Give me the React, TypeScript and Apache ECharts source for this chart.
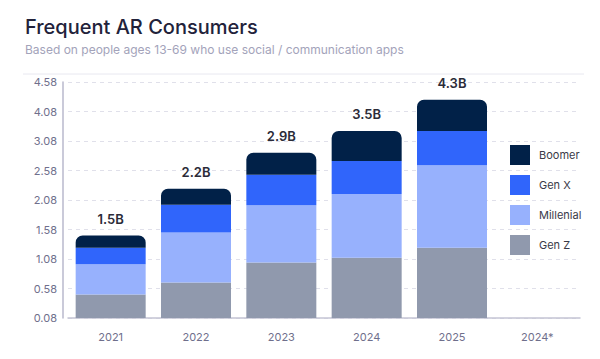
import React, { useEffect, useRef } from "react";
import * as echarts from "echarts";

const categories = ["2021", "2022", "2023", "2024", "2025", "2024*"];
const genZ = [0.4, 0.6, 0.94, 1.02, 1.19, null];
const millenial = [0.51, 0.85, 0.97, 1.08, 1.4, null];
const genX = [0.28, 0.47, 0.52, 0.56, 0.58, null];
const boomer = [0.21, 0.27, 0.37, 0.51, 0.53, null];
const totals = ["1.5B", "2.2B", "2.9B", "3.5B", "4.3B", ""];
const yTickLabels = ["0.08", "0.58", "1.08", "1.58", "2.08", "2.58", "3.08", "4.08", "4.58"];

const FONT = "Inter, 'Noto Sans', sans-serif";

export default function App() {
  const ref = useRef<HTMLDivElement>(null);
  useEffect(() => {
    if (!ref.current) return;
    const chart = echarts.init(ref.current, null, { renderer: "svg" });
    const barBase = { type: "bar", stack: "total", barWidth: 70 };
    chart.setOption({
      animation: false,
      textStyle: { fontFamily: FONT },
      title: {
        text: "Frequent AR Consumers",
        subtext: "Based on people ages 13-69 who use social / communication apps",
        left: 20,
        top: 12,
        itemGap: 6,
        textStyle: { fontSize: 20, fontWeight: 500, color: "#22223a", fontFamily: FONT },
        subtextStyle: { fontSize: 12, color: "#a3a3ba", fontFamily: FONT },
      },
      graphic: [
        {
          type: "line",
          shape: { x1: 23, y1: 74, x2: 584, y2: 74 },
          style: { stroke: "#e8e8f0", lineWidth: 1 },
        },
      ],
      legend: {
        orient: "vertical",
        left: 505,
        top: 140,
        itemWidth: 20,
        itemHeight: 20,
        itemGap: 10,
        icon: "rect",
        data: ["Boomer", "Gen X", "Millenial", "Gen Z"],
        textStyle: { fontSize: 11, color: "#3a3a48", padding: [0, 0, 0, 4], fontFamily: FONT },
      },
      grid: { left: 68, right: 20, top: 82, bottom: 41 },
      xAxis: {
        type: "category",
        data: categories,
        axisLine: { lineStyle: { color: "#c4c4d4", width: 1.5 } },
        axisTick: { show: false },
        axisLabel: { color: "#6f6f8c", fontSize: 11, margin: 13, fontFamily: FONT },
      },
      yAxis: {
        type: "value",
        min: 0,
        max: 4,
        interval: 0.5,
        offset: 5,
        axisLine: { show: true, lineStyle: { color: "#b8b8cc", width: 1.5 } },
        axisTick: { show: false },
        axisLabel: {
          color: "#6f6f8c",
          fontSize: 11,
          margin: 6,
          fontFamily: FONT,
          formatter: (v: number) => yTickLabels[Math.round(v / 0.5)] ?? "",
        },
        splitLine: { lineStyle: { color: "#e0e0ea", type: [4, 4] } },
      },
      series: [
        { ...barBase, name: "Gen Z", data: genZ, itemStyle: { color: "#9099ad" } },
        { ...barBase, name: "Millenial", data: millenial, itemStyle: { color: "#97b1fd" } },
        { ...barBase, name: "Gen X", data: genX, itemStyle: { color: "#3065fb" } },
        {
          ...barBase,
          name: "Boomer",
          data: boomer,
          itemStyle: { color: "#012148", borderRadius: [7, 7, 0, 0] },
          label: {
            show: true,
            position: "top",
            distance: 10,
            fontSize: 13,
            fontWeight: 600,
            color: "#2b2b38",
            fontFamily: FONT,
            formatter: (p: any) => totals[p.dataIndex],
          },
        },
      ],
    });
    return () => chart.dispose();
  }, []);
  return (
    <div
      ref={ref}
      style={{ position: "fixed", left: 0, top: 0, width: 600, height: 359, background: "#fff" }}
    />
  );
}
